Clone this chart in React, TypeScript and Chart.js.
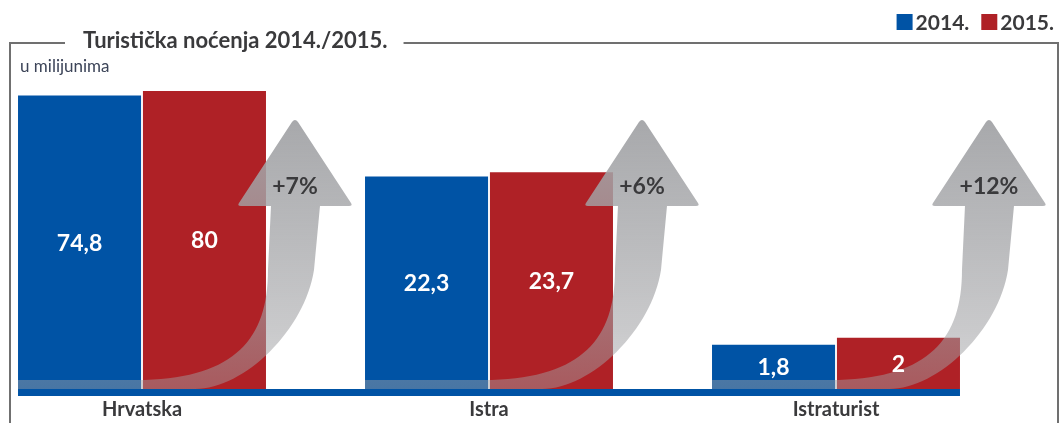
import React, { useEffect, useRef } from 'react';
import { Chart, registerables } from 'chart.js';

Chart.register(...registerables);

// ---- data ----
const categories = ['Hrvatska', 'Istra', 'Istraturist'];
const seriesLabels = ['2014.', '2015.'];
const values2014 = [74.8, 22.3, 1.8];
const values2015 = [80, 23.7, 2];
const growthLabels = ['+7%', '+6%', '+12%'];
const chartTitle = 'Turistička noćenja 2014./2015.';
const unitLabel = 'u milijunima';

// ---- style ----
const BLUE = '#0053a5';
const RED = '#af2126';
const FONT = "Lato, 'Open Sans', sans-serif";
const W = 1060;
const H = 423;

const fmt = (v: number) => String(v).replace('.', ',');

const decorPlugin = {
  id: 'decor',
  beforeDraw(chart: any) {
    const ctx = chart.ctx;
    ctx.save();
    // title
    ctx.font = `bold 22px ${FONT}`;
    const titleX = 83;
    const tw = ctx.measureText(chartTitle).width;
    ctx.fillStyle = '#3a3a3c';
    ctx.textAlign = 'left';
    ctx.textBaseline = 'alphabetic';
    ctx.fillText(chartTitle, titleX, 48);
    // frame
    ctx.strokeStyle = '#707070';
    ctx.lineWidth = 2;
    ctx.beginPath();
    ctx.moveTo(10, H + 2);
    ctx.lineTo(10, 43);
    ctx.lineTo(titleX - 18, 43);
    ctx.moveTo(titleX + tw + 16, 43);
    ctx.lineTo(1058, 43);
    ctx.lineTo(1058, H + 2);
    ctx.stroke();
    // unit label
    ctx.font = `17px ${FONT}`;
    ctx.fillStyle = '#3c4458';
    ctx.fillText(unitLabel, 20, 72);
    // legend (from datasets), right aligned
    ctx.font = `bold 21px ${FONT}`;
    const ds = chart.data.datasets;
    let x = 1054;
    const items: any[] = [];
    for (let i = ds.length - 1; i >= 0; i--) {
      const t = ds[i].label;
      const w = ctx.measureText(t).width;
      x -= w;
      const it: any = { t, x, c: ds[i].backgroundColor };
      x -= 19;
      it.sx = x;
      items.push(it);
      x -= 12;
    }
    for (const it of items) {
      ctx.fillStyle = it.c;
      ctx.fillRect(it.sx, 14, 16, 16);
      ctx.fillStyle = '#3a3a3c';
      ctx.fillText(it.t, it.x, 30);
    }
    ctx.restore();
  },
  afterDatasetsDraw(chart: any) {
    const ctx = chart.ctx;
    const area = chart.chartArea;
    const m0 = chart.getDatasetMeta(0);
    const m1 = chart.getDatasetMeta(1);
    const yb = area.bottom;
    const tip = area.top + 44;
    const hb = area.top + 130;
    ctx.save();
    // arrows
    for (let i = 0; i < categories.length; i++) {
      const b1 = m0.data[i];
      const b2 = m1.data[i];
      const L = b1.x - b1.width / 2;
      const R2 = b2.x + b2.width / 2;
      const xh = R2 + 29;
      const g = ctx.createLinearGradient(0, tip, 0, yb);
      g.addColorStop(0, 'rgba(163,164,167,0.95)');
      g.addColorStop(0.45, 'rgba(163,164,167,0.75)');
      g.addColorStop(1, 'rgba(160,160,163,0.45)');
      ctx.fillStyle = g;
      ctx.beginPath();
      ctx.moveTo(L, yb - 9);
      ctx.lineTo(xh - 150, yb - 9);
      ctx.bezierCurveTo(xh - 60, yb - 12, xh - 27, yb - 50, xh - 27, yb - 119);
      ctx.lineTo(xh - 24, hb);
      ctx.lineTo(xh - 54, hb);
      ctx.quadraticCurveTo(xh - 58, hb, xh - 56, hb - 3);
      ctx.lineTo(xh - 3, tip + 2);
      ctx.quadraticCurveTo(xh, tip - 2, xh + 3, tip + 2);
      ctx.lineTo(xh + 56, hb - 3);
      ctx.quadraticCurveTo(xh + 58, hb, xh + 54, hb);
      ctx.lineTo(xh + 25, hb);
      ctx.lineTo(xh + 19, yb - 119);
      ctx.bezierCurveTo(xh + 10, yb - 60, xh - 50, yb, xh - 100, yb);
      ctx.lineTo(L, yb);
      ctx.closePath();
      ctx.fill();
      ctx.font = `bold 23px ${FONT}`;
      ctx.fillStyle = '#3a3a3c';
      ctx.textAlign = 'center';
      ctx.textBaseline = 'middle';
      ctx.fillText(growthLabels[i], xh, tip + 67);
    }
    // baseline strip
    const first = m0.data[0];
    const last = m1.data[m1.data.length - 1];
    const sx = first.x - first.width / 2;
    const ex = last.x + last.width / 2;
    ctx.fillStyle = BLUE;
    ctx.fillRect(sx, yb, ex - sx, 7);
    // value labels
    ctx.font = `bold 23px ${FONT}`;
    ctx.fillStyle = '#ffffff';
    ctx.textAlign = 'center';
    ctx.textBaseline = 'middle';
    [m0, m1].forEach((m: any, di: number) => {
      const vals = chart.data.datasets[di].data;
      m.data.forEach((bar: any, j: number) => {
        ctx.fillText(fmt(vals[j]), bar.x, (bar.y + bar.base) / 2 + 1);
      });
    });
    ctx.restore();
  },
};

export default function App() {
  const ref = useRef<HTMLCanvasElement | null>(null);
  useEffect(() => {
    if (!ref.current) return;
    const chart = new Chart(ref.current, {
      type: 'bar',
      data: {
        labels: categories,
        datasets: [
          {
            label: seriesLabels[0],
            data: values2014,
            backgroundColor: BLUE,
            categoryPercentage: 0.72,
            barPercentage: 0.985,
            clip: false,
          } as any,
          {
            label: seriesLabels[1],
            data: values2015,
            backgroundColor: RED,
            categoryPercentage: 0.72,
            barPercentage: 0.985,
            clip: false,
          } as any,
        ],
      },
      options: {
        animation: false,
        responsive: false,
        devicePixelRatio: 1,
        layout: { padding: { left: 142, right: 224, top: 76, bottom: -8 } },
        scales: {
          x: {
            type: 'category',
            offset: false,
            grid: { display: false, drawTicks: false },
            border: { display: false },
            ticks: {
              autoSkip: false,
              maxRotation: 0,
              padding: 9,
              color: '#3a3a3c',
              font: { family: FONT, weight: 'bold', size: 20 },
            },
          },
          y: {
            type: 'logarithmic',
            display: false,
            min: 0.93,
            max: 100,
            bounds: 'data',
          },
        },
        plugins: {
          legend: { display: false },
          tooltip: { enabled: false },
          title: { display: false },
        },
      },
      plugins: [decorPlugin],
    } as any);
    return () => chart.destroy();
  }, []);
  return (
    <div style={{ position: 'absolute', left: 0, top: 0, width: W, height: H, background: '#fff' }}>
      <canvas ref={ref} width={W} height={H} style={{ display: 'block' }} />
    </div>
  );
}
